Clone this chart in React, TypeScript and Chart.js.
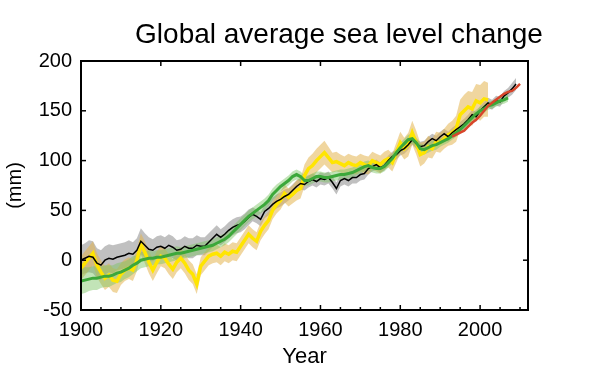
import React, { useEffect, useRef } from "react";
import { Chart, registerables } from "chart.js";

Chart.register(...registerables);

const FONT = "'Liberation Sans', Arial, Helvetica, sans-serif";

const X_MIN = 1900;
const X_MAX = 2012;
const Y_MIN = -50;
const Y_MAX = 200;
const X_LABEL_TICKS = [1900, 1920, 1940, 1960, 1980, 2000];
const X_MINOR_TICKS = [1905, 1910, 1915, 1925, 1930, 1935, 1945, 1950, 1955, 1965, 1970, 1975, 1985, 1990, 1995, 2005, 2010];
const Y_LABEL_TICKS = [-50, 0, 50, 100, 150, 200];

const TITLE = "Global average sea level change";
const X_TITLE = "Year";
const Y_TITLE = "(mm)";

// Church & White (black), 1900-2009
const CW_START = 1900;
const cwLevel = [
  0, 2, 4, 3, -3, -5, 0, 2, 1, 3,
  4, 5, 7, 6, 10, 19, 15, 11, 10, 13,
  14, 12, 15, 13, 10, 11, 14, 12, 12, 15,
  14, 14, 18, 22, 26, 23, 26, 30, 33, 35,
  36, 39, 43, 46, 44, 41, 49, 52, 56, 59,
  61, 64, 66, 70, 74, 77, 76, 79, 81, 79,
  82, 81, 83, 78, 72, 80, 82, 80, 83, 83,
  86, 87, 92, 94, 96, 93, 95, 100, 104, 106,
  110, 112, 116, 121, 117, 114, 115, 119, 122, 120,
  124, 127, 124, 128, 131, 134, 137, 141, 146, 144,
  150, 154, 158, 156, 160, 159, 165, 168, 172, 177,
];
const cwError = [
  15, 15, 16, 16, 15, 15, 14, 14, 14, 13,
  13, 13, 13, 12, 12, 13, 12, 12, 11, 11,
  11, 11, 11, 11, 10, 10, 10, 10, 10, 10,
  9, 9, 9, 9, 9, 8, 8, 8, 8, 8,
  8, 8, 8, 7, 7, 7, 7, 7, 7, 7,
  7, 7, 6, 6, 6, 6, 6, 6, 6, 6,
  6, 6, 6, 6, 6, 6, 6, 6, 6, 6,
  6, 6, 6, 5, 5, 5, 5, 5, 5, 5,
  5, 5, 5, 5, 5, 5, 5, 5, 5, 5,
  5, 5, 5, 5, 5, 5, 5, 5, 5, 5,
  5, 5, 5, 5, 5, 5, 5, 5, 6, 6,
];

// Jevrejeva (yellow), 1900-2002
const JEV_START = 1900;
const jevLevel = [
  -8, -3, 2, 7, -5, -12, -18, -15, -20, -21,
  -14, -10, -8, -10, 0, 16, 8, -2, -10, -2,
  4, 2, -4, -9, -2, 2, -3, -10, -14, -24,
  -6, -1, 4, 6, 7, 4, 8, 6, 9, 8,
  14, 20, 26, 22, 19, 29, 35, 40, 50, 56,
  60, 67, 63, 66, 70, 72, 85, 92, 95, 100,
  104, 108, 103, 98, 99, 97, 95, 98, 96, 95,
  98, 96, 95, 100, 98, 96, 100, 102, 98, 108,
  118, 112, 116, 128, 118, 106, 108, 114, 112, 119,
  118, 122, 126, 128, 132, 146, 150, 154, 152, 160,
  158, 162, 161,
];
const jevError = [
  12, 12, 12, 12, 12, 12, 12, 12, 12, 12,
  11, 11, 11, 11, 11, 11, 11, 11, 11, 11,
  10, 10, 10, 10, 10, 10, 10, 10, 10, 10,
  9, 9, 9, 9, 9, 9, 9, 9, 9, 9,
  9, 9, 9, 9, 9, 9, 9, 9, 9, 9,
  9, 9, 9, 9, 10, 10, 11, 11, 12, 12,
  12, 12, 11, 10, 10, 9, 9, 9, 9, 9,
  9, 9, 9, 9, 9, 9, 9, 9, 9, 10,
  11, 11, 12, 12, 12, 12, 11, 11, 10, 10,
  10, 10, 11, 12, 13, 15, 16, 16, 17, 17,
  18, 18, 17,
];

// Ray & Douglas (green), 1900-2007
const RD_START = 1900;
const rdLevel = [
  -21, -20, -19, -18, -18, -17, -16, -16, -15, -13,
  -12, -10, -8, -5, -3, 0, 1, 2, 2, 3,
  3, 4, 5, 6, 7, 7, 8, 9, 10, 11,
  12, 13, 14, 15, 17, 19, 21, 24, 28, 32,
  36, 40, 44, 47, 50, 53, 56, 60, 66, 70,
  74, 77, 80, 84, 86, 84, 80, 80, 82, 84,
  84, 83, 83, 84, 85, 86, 86, 87, 88, 90,
  92, 94, 95, 93, 92, 92, 94, 98, 102, 108,
  113, 117, 121, 122, 118, 112, 111, 113, 115, 116,
  118, 120, 122, 125, 128, 131, 135, 139, 143, 147,
  150, 152, 155, 156, 158, 160, 161, 163,
];
const rdError = [
  13, 13, 12, 12, 12, 11, 11, 11, 10, 10,
  10, 9, 9, 9, 8, 8, 8, 8, 7, 7,
  7, 7, 7, 7, 7, 6, 6, 6, 6, 6,
  6, 6, 6, 6, 6, 6, 6, 6, 6, 6,
  6, 6, 6, 6, 6, 6, 6, 6, 6, 6,
  5, 5, 5, 5, 5, 5, 5, 5, 5, 5,
  5, 5, 5, 5, 5, 5, 5, 5, 5, 5,
  5, 5, 5, 5, 5, 5, 5, 5, 5, 5,
  5, 5, 5, 5, 5, 5, 5, 5, 5, 5,
  4, 4, 4, 4, 4, 4, 4, 4, 4, 4,
  4, 4, 4, 4, 4, 4, 4, 4,
];

// Satellite altimetry (red), 1993-2010
const ALT_START = 1993;
const altLevel = [124, 126, 128, 130, 134, 138, 141, 145, 150, 155, 158, 161, 164, 167, 169, 170, 173, 177];

const toPoints = (start: number, vals: number[]) => vals.map((v, i) => ({ x: start + i, y: v }));
const toBand = (start: number, vals: number[], errs: number[], sign: number) =>
  vals.map((v, i) => ({ x: start + i, y: v + sign * errs[i] }));

const framePlugin = {
  id: "frame",
  afterDatasetsDraw(chart: any) {
    const { ctx, chartArea, scales } = chart;
    const { left, right, top, bottom } = chartArea;
    const xs = scales.x;
    const ys = scales.y;
    ctx.save();
    ctx.strokeStyle = "#000";
    ctx.lineWidth = 1.5;
    const seg = (x1: number, y1: number, x2: number, y2: number) => {
      ctx.beginPath();
      ctx.moveTo(x1, y1);
      ctx.lineTo(x2, y2);
      ctx.stroke();
    };
    for (const v of X_LABEL_TICKS) {
      const px = xs.getPixelForValue(v);
      seg(px, bottom, px, bottom - 5);
      seg(px, top, px, top + 5);
    }
    for (const v of X_MINOR_TICKS) {
      const px = xs.getPixelForValue(v);
      seg(px, bottom, px, bottom - 3);
    }
    for (const v of Y_LABEL_TICKS) {
      const py = ys.getPixelForValue(v);
      seg(left, py, left + 5, py);
      seg(right, py, right - 5, py);
    }
    ctx.lineWidth = 2;
    ctx.strokeRect(left, top, right - left, bottom - top);
    ctx.restore();
  },
  afterDraw(chart: any) {
    const { ctx } = chart;
    ctx.save();
    ctx.fillStyle = "#000";
    ctx.font = `28px ${FONT}`;
    ctx.textAlign = "center";
    ctx.textBaseline = "alphabetic";
    ctx.fillText(TITLE, 339, 43);
    ctx.restore();
  },
};

export default function App() {
  const canvasRef = useRef<HTMLCanvasElement | null>(null);

  useEffect(() => {
    const canvas = canvasRef.current;
    if (!canvas) return;
    const lineBase = { pointRadius: 0, tension: 0, fill: false };
    const hidden = { borderWidth: 0, pointRadius: 0, backgroundColor: "rgba(0,0,0,0)", borderColor: "rgba(0,0,0,0)", fill: false };
    const chart = new Chart(canvas, {
      type: "line",
      data: {
        datasets: [
          { ...hidden, label: "cw-low", data: toBand(CW_START, cwLevel, cwError, -1), order: 9 },
          { ...hidden, label: "cw-high", data: toBand(CW_START, cwLevel, cwError, 1), fill: "-1", backgroundColor: "rgba(140,140,140,0.55)", order: 9 },
          { ...hidden, label: "jev-low", data: toBand(JEV_START, jevLevel, jevError, -1), order: 8 },
          { ...hidden, label: "jev-high", data: toBand(JEV_START, jevLevel, jevError, 1), fill: "-1", backgroundColor: "rgba(228,180,80,0.55)", order: 8 },
          { ...hidden, label: "rd-low", data: toBand(RD_START, rdLevel, rdError, -1), order: 7 },
          { ...hidden, label: "rd-high", data: toBand(RD_START, rdLevel, rdError, 1), fill: "-1", backgroundColor: "rgba(120,195,95,0.45)", order: 7 },
          { ...lineBase, label: "Jevrejeva", data: toPoints(JEV_START, jevLevel), borderColor: "#ffe500", borderWidth: 3.5, order: 4 },
          { ...lineBase, label: "Church & White", data: toPoints(CW_START, cwLevel), borderColor: "#000000", borderWidth: 1.5, order: 3 },
          { ...lineBase, label: "Ray & Douglas", data: toPoints(RD_START, rdLevel), borderColor: "#3ca83a", borderWidth: 3, order: 2 },
          { ...lineBase, label: "Altimetry", data: toPoints(ALT_START, altLevel), borderColor: "#d8452a", borderWidth: 2.5, order: 1 },
        ],
      },
      options: {
        animation: false,
        responsive: false,
        devicePixelRatio: 1,
        events: [],
        layout: { padding: { top: 61, left: 0, right: 81, bottom: 0 } },
        plugins: { legend: { display: false }, tooltip: { enabled: false }, title: { display: false } },
        scales: {
          x: {
            type: "linear",
            min: X_MIN,
            max: X_MAX,
            afterBuildTicks: (s: any) => {
              s.ticks = X_LABEL_TICKS.map((v) => ({ value: v }));
            },
            afterFit: (s: any) => {
              s.height = 66;
            },
            grid: { display: false, drawTicks: false },
            border: { display: false },
            ticks: {
              color: "#000",
              font: { family: FONT, size: 20 },
              padding: 8,
              maxRotation: 0,
              autoSkip: false,
              callback: (v: any) => String(v),
            },
            title: { display: true, text: X_TITLE, color: "#000", font: { family: FONT, size: 22 }, padding: { top: 0, bottom: 6 } },
          },
          y: {
            type: "linear",
            min: Y_MIN,
            max: Y_MAX,
            afterBuildTicks: (s: any) => {
              s.ticks = Y_LABEL_TICKS.map((v) => ({ value: v }));
            },
            afterFit: (s: any) => {
              s.width = 81;
            },
            grid: { display: false, drawTicks: false },
            border: { display: false },
            ticks: {
              color: "#000",
              font: { family: FONT, size: 20 },
              padding: 9,
              autoSkip: false,
              callback: (v: any) => String(v),
            },
            title: { display: true, text: Y_TITLE, color: "#000", font: { family: FONT, size: 20 }, padding: { top: 3, bottom: 0 } },
          },
        },
      },
      plugins: [framePlugin],
    });
    return () => chart.destroy();
  }, []);

  return (
    <div style={{ position: "fixed", left: 0, top: 0, width: 609, height: 376, background: "#fff" }}>
      <canvas ref={canvasRef} width={609} height={376} style={{ width: 609, height: 376, display: "block" }} />
    </div>
  );
}
